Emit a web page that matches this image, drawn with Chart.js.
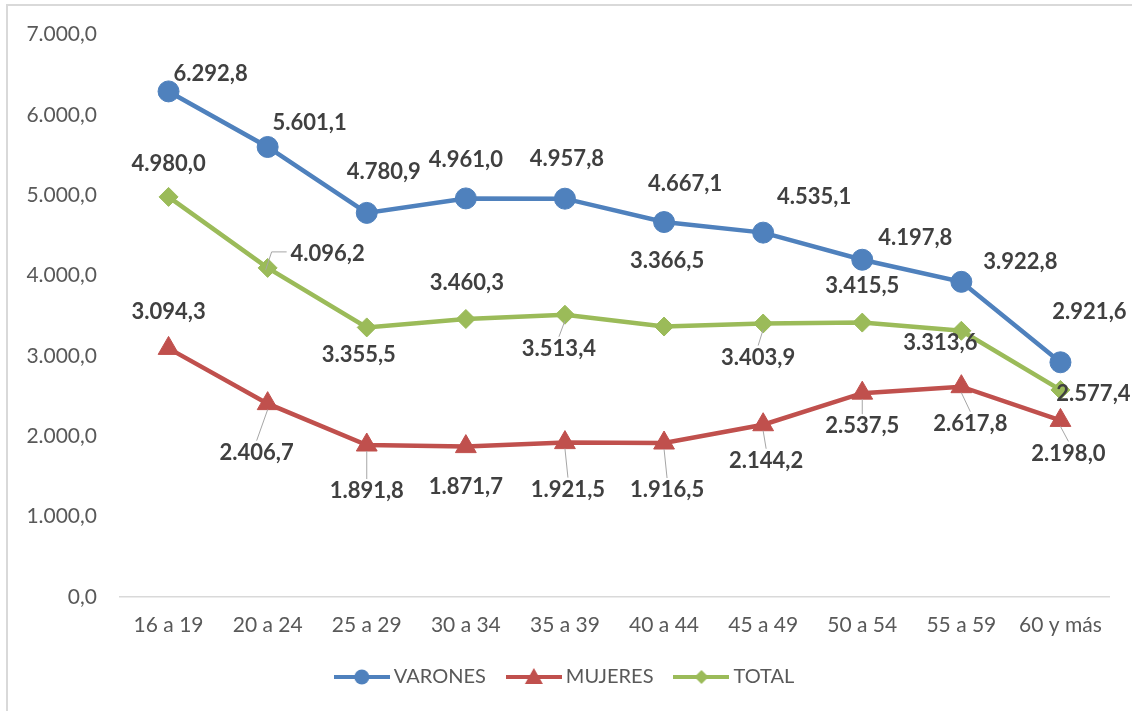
<!DOCTYPE html>
<html>
<head>
<meta charset="utf-8">
<script src="https://cdn.jsdelivr.net/npm/chart.js@4.4.0/dist/chart.umd.min.js"></script>
<style>
  html, body { margin: 0; padding: 0; background: #fff; }
</style>
</head>
<body>
<canvas id="chart_edad" width="1132" height="711"></canvas>
<script>
var ageGroups = ["16 a 19", "20 a 24", "25 a 29", "30 a 34", "35 a 39", "40 a 44", "45 a 49", "50 a 54", "55 a 59", "60 y más"];
var varones = [6292.8, 5601.1, 4780.9, 4961.0, 4957.8, 4667.1, 4535.1, 4197.8, 3922.8, 2921.6];
var mujeres = [3094.3, 2406.7, 1891.8, 1871.7, 1921.5, 1916.5, 2144.2, 2537.5, 2617.8, 2198.0];
var total = [4980.0, 4096.2, 3355.5, 3460.3, 3513.4, 3366.5, 3403.9, 3415.5, 3313.6, 2577.4];
var yMin = 0, yMax = 7000, yStep = 1000;

// where each value label sits, relative to its point (px)
var offVarones = [[42,-18],[42,-24],[17,-41],[0,-39],[2,-40],[21,-38],[51,-36],[53,-22],[59,-20],[29,-50]];
var offMujeres = [[0,-36],[-11,49],[0,46],[0,40],[3,47],[3,47],[3,36],[0,33],[9,37],[8,33]];
var offTotal   = [[0,-33],[60,-14],[-8,27],[1,-36],[-6,34],[3,-66],[-5,34],[0,-37],[-21,12],[33,4]];
var labelOffsets = [offVarones, offMujeres, offTotal];
// small gray leader lines (0 = none, 2 = elbow)
var leaders = [
  [0,0,0,0,0,0,0,0,0,0],
  [0,1,1,0,1,1,1,1,1,1],
  [0,2,0,0,1,0,1,0,0,0]
];

var blue = '#4F81BD', red = '#C0504D', green = '#9BBB59';
var legendPad = 26;

function fmt(v) {
  var s = v.toFixed(1).split('.');
  var ent = s[0].replace(/\B(?=(\d{3})+(?!\d))/g, '.');
  return ent + ',' + s[1];
}

function makeIcon(color, shape) {
  var c = document.createElement('canvas');
  c.width = 56; c.height = 20;
  var g = c.getContext('2d');
  g.strokeStyle = color; g.fillStyle = color; g.lineWidth = 4;
  g.beginPath(); g.moveTo(0, 10); g.lineTo(56, 10); g.stroke();
  g.beginPath();
  if (shape == 'circle') {
    g.arc(28, 10, 7.5, 0, Math.PI * 2);
  } else if (shape == 'triangle') {
    g.moveTo(28, 1); g.lineTo(37, 17); g.lineTo(19, 17); g.closePath();
  } else {
    g.moveTo(28, 3); g.lineTo(35, 10); g.lineTo(28, 17); g.lineTo(21, 10); g.closePath();
  }
  g.fill();
  return c;
}
var legendIcons = [makeIcon(blue, 'circle'), makeIcon(red, 'triangle'), makeIcon(green, 'diamond')];

var framePlugin = {
  id: 'frame',
  beforeDraw: function(chart) {
    var ctx = chart.ctx;
    ctx.save();
    ctx.fillStyle = '#fff';
    ctx.fillRect(0, 0, chart.width, chart.height);
    ctx.strokeStyle = '#d9d9d9';
    ctx.lineWidth = 2;
    ctx.beginPath();
    ctx.moveTo(7, chart.height); ctx.lineTo(7, 5); ctx.lineTo(chart.width, 5);
    ctx.stroke();
    ctx.restore();
  }
};

var labelPlugin = {
  id: 'valueLabels',
  afterDatasetsDraw: function(chart) {
    var ctx = chart.ctx;
    ctx.save();
    ctx.font = 'bold 22px Lato';
    ctx.fillStyle = '#404040';
    ctx.textAlign = 'center';
    ctx.textBaseline = 'middle';
    chart.data.datasets.forEach(function(ds, i) {
      var meta = chart.getDatasetMeta(i);
      meta.data.forEach(function(pt, j) {
        var lx = pt.x + labelOffsets[i][j][0];
        var ly = pt.y + labelOffsets[i][j][1];
        var lead = leaders[i][j];
        if (lead) {
          ctx.strokeStyle = '#a6a6a6';
          ctx.lineWidth = 1;
          ctx.beginPath();
          if (lead == 2) {
            ctx.moveTo(lx - 41, ly - 2); ctx.lineTo(pt.x + 4, ly - 2); ctx.lineTo(pt.x - 2, pt.y + 2);
          } else {
            var dy = ly > pt.y ? 1 : -1;
            ctx.moveTo(lx, ly - dy * 12);
            ctx.lineTo(pt.x, pt.y + dy * 6);
          }
          ctx.stroke();
        }
        ctx.fillText(fmt(ds.data[j]), lx, ly);
      });
    });
    ctx.restore();
  }
};

var tickFont = { family: 'Lato', size: 21 };

var chartEdad = new Chart(document.getElementById('chart_edad'), {
  type: 'line',
  data: {
    labels: ageGroups,
    datasets: [
      { label: 'VARONES', data: varones, borderColor: blue, backgroundColor: blue, borderWidth: 4.5,
        pointStyle: 'circle', pointRadius: 10.5, pointBorderWidth: 1, lineTension: 0, fill: false },
      { label: 'MUJERES', data: mujeres, borderColor: red, backgroundColor: red, borderWidth: 4.5,
        pointStyle: 'triangle', pointRadius: 12, pointBorderWidth: 1, lineTension: 0, fill: false },
      { label: 'TOTAL', data: total, borderColor: green, backgroundColor: green, borderWidth: 4.5,
        pointStyle: 'rectRot', pointRadius: 9.5, pointBorderWidth: 1, lineTension: 0, fill: false }
    ]
  },
  options: {
    responsive: false,
    animation: false,
    layout: { padding: { top: 33, left: 24, right: 22, bottom: 14 } },
    plugins: {
      tooltip: { enabled: false },
      legend: {
        position: 'bottom',
        labels: {
          usePointStyle: true,
          pointStyleWidth: 44,
          padding: legendPad,
          color: '#595959',
          font: { family: 'Lato', size: 20 },
          generateLabels: function(chart) {
            var items = Chart.defaults.plugins.legend.labels.generateLabels(chart);
            items.forEach(function(it, i) { it.pointStyle = legendIcons[i]; });
            return items;
          }
        }
      }
    },
    scales: {
      x: {
        offset: true,
        grid: { display: false, drawTicks: false },
        border: { display: false },
        ticks: { padding: 16, color: '#595959', font: tickFont, maxRotation: 0, autoSkip: false },
        afterFit: function(s) { s.height = 70 - legendPad; }
      },
      y: {
        min: yMin, max: yMax,
        grid: {
          drawTicks: false, lineWidth: 1.5,
          color: function(c) { return c.tick && c.tick.value === 0 ? '#d9d9d9' : 'rgba(0,0,0,0)'; }
        },
        border: { display: false },
        ticks: { stepSize: yStep, padding: 22, color: '#595959', font: tickFont,
          callback: function(v) { return fmt(v); } },
        afterFit: function(s) { s.width = 95; }
      }
    }
  },
  plugins: [framePlugin, labelPlugin]
});
</script>
</body>
</html>
